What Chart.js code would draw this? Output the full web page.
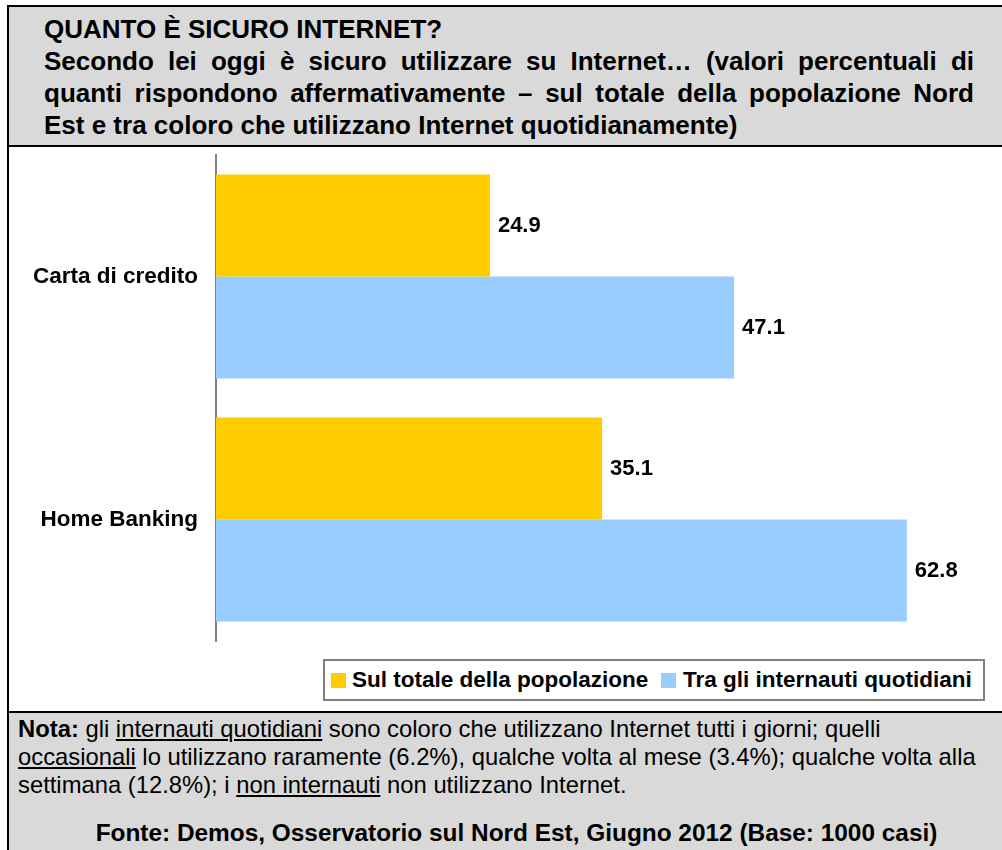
<!DOCTYPE html>
<html lang="it">
<head>
<meta charset="utf-8">
<title>Quanto è sicuro Internet?</title>
<script src="https://cdn.jsdelivr.net/npm/chart.js@4.4.1/dist/chart.umd.min.js"></script>
<style>
  html, body { margin: 0; padding: 0; width: 1002px; height: 850px; overflow: hidden; background: #fff; }
  body { position: relative; font-family: "Liberation Sans", Arial, sans-serif; color: #000; }
  #header {
    position: absolute; left: 7px; top: 5px; width: 1040px; height: 142px;
    box-sizing: border-box; background: #d9d9d9;
    border-top: 2px solid #000; border-left: 2px solid #000; border-bottom: 2px solid #000;
  }
  .hline {
    position: absolute; left: 35px; width: 930px; height: 32px; line-height: 32px;
    font-size: 26px; font-weight: bold; white-space: nowrap;
  }
  .hline.just { text-align: justify; text-align-last: justify; white-space: normal; }
  #plotbox {
    position: absolute; left: 7px; top: 147px; width: 1040px; height: 564px;
    box-sizing: border-box; border-left: 2px solid #000; background: #fff;
  }
  #chartwrap { position: absolute; left: 9px; top: 147px; width: 993px; height: 564px; }
  #legend {
    position: absolute; left: 323px; top: 659px; width: 662px; height: 42px;
    box-sizing: border-box; border: 2px solid #808080; background: #fff;
    font-size: 22.5px; font-weight: bold; white-space: nowrap;
  }
  .litem { position: absolute; top: 0; height: 38px; line-height: 38px; }
  .lswatch { position: absolute; top: 12px; width: 15px; height: 15px; }
  #footer {
    position: absolute; left: 7px; top: 711px; width: 1040px; height: 160px;
    box-sizing: border-box; background: #d9d9d9;
    border-top: 2px solid #000; border-left: 2px solid #000;
  }
  #nota {
    position: absolute; left: 9px; top: 2px; font-size: 23.8px; line-height: 28px; white-space: nowrap;
  }
  #fonte {
    position: absolute; left: 0; width: 1015px; top: 106px; text-align: center;
    font-size: 24.4px; line-height: 28px; font-weight: bold; white-space: nowrap;
  }
</style>
</head>
<body>
<div id="header">
  <div class="hline" style="top:6px;">QUANTO È SICURO INTERNET?</div>
  <div class="hline just" style="top:38px;">Secondo lei oggi è sicuro utilizzare su Internet… (valori percentuali di</div>
  <div class="hline just" style="top:70px;">quanti rispondono affermativamente – sul totale della popolazione Nord</div>
  <div class="hline" style="top:102px;">Est e tra coloro che utilizzano Internet quotidianamente)</div>
</div>
<div id="plotbox"></div>
<div id="chartwrap"><canvas id="chart" width="993" height="564"></canvas></div>
<div id="legend"></div>
<div id="footer">
  <div id="nota"><b>Nota:</b> gli <u>internauti quotidiani</u> sono coloro che utilizzano Internet tutti i giorni; quelli<br><u>occasionali</u> lo utilizzano raramente (6.2%), qualche volta al mese (3.4%); qualche volta alla<br>settimana (12.8%); i <u>non internauti</u> non utilizzano Internet.</div>
  <div id="fonte">Fonte: Demos, Osservatorio sul Nord Est, Giugno 2012 (Base: 1000 casi)</div>
</div>
<script>
// Categories and series values (percent answering "yes")
const categories = ['Carta di credito', 'Home Banking'];
const seriesNames = ['Sul totale della popolazione', 'Tra gli internauti quotidiani'];
const totalePopolazione = [24.9, 35.1];
const internautiQuotidiani = [47.1, 62.8];

const seriesColors = ['#FFCC00', '#99CCFF'];
const FONT_FAMILY = '"Liberation Sans", Arial, sans-serif';

// Writes each bar's value just past its end
const valueLabels = {
  id: 'valueLabels',
  afterDatasetsDraw(chart) {
    const ctx = chart.ctx;
    ctx.save();
    ctx.font = 'bold 22px ' + FONT_FAMILY;
    ctx.fillStyle = '#000';
    ctx.textAlign = 'left';
    ctx.textBaseline = 'middle';
    chart.data.datasets.forEach((ds, i) => {
      chart.getDatasetMeta(i).data.forEach((bar, j) => {
        ctx.fillText(ds.data[j].toFixed(1), bar.x + 8, bar.y);
      });
    });
    ctx.restore();
  }
};

const chart = new Chart(document.getElementById('chart'), {
  type: 'bar',
  data: {
    labels: categories,
    datasets: [
      { label: seriesNames[0], data: totalePopolazione, backgroundColor: seriesColors[0] },
      { label: seriesNames[1], data: internautiQuotidiani, backgroundColor: seriesColors[1] }
    ]
  },
  options: {
    indexAxis: 'y',
    responsive: false,
    animation: false,
    layout: { padding: { top: 8, right: 16, bottom: 70, left: 0 } },
    datasets: { bar: { categoryPercentage: 0.84, barPercentage: 1.0, borderWidth: 0 } },
    scales: {
      x: { display: false, min: 0, max: 70 },
      y: {
        grid: { display: false, drawTicks: false },
        border: { display: true, color: '#808080', width: 2 },
        ticks: {
          color: '#000',
          padding: 18,
          font: { family: FONT_FAMILY, size: 22.5, weight: 'bold' }
        },
        afterFit(scale) {
          // fixed axis width; no extra room above/below the category band
          scale.width = 207;
          scale.paddingTop = 0;
          scale.paddingBottom = 0;
        }
      }
    },
    plugins: { legend: { display: false }, tooltip: { enabled: false } }
  },
  plugins: [valueLabels]
});

// Legend built from the chart's datasets
const legend = document.getElementById('legend');
const legendPos = [{ sw: 6, tx: 27 }, { sw: 336, tx: 358 }];
chart.data.datasets.forEach((ds, i) => {
  const sw = document.createElement('div');
  sw.className = 'lswatch';
  sw.style.left = legendPos[i].sw + 'px';
  sw.style.background = ds.backgroundColor;
  legend.appendChild(sw);
  const tx = document.createElement('div');
  tx.className = 'litem';
  tx.style.left = legendPos[i].tx + 'px';
  tx.textContent = ds.label;
  legend.appendChild(tx);
});
</script>
</body>
</html>
